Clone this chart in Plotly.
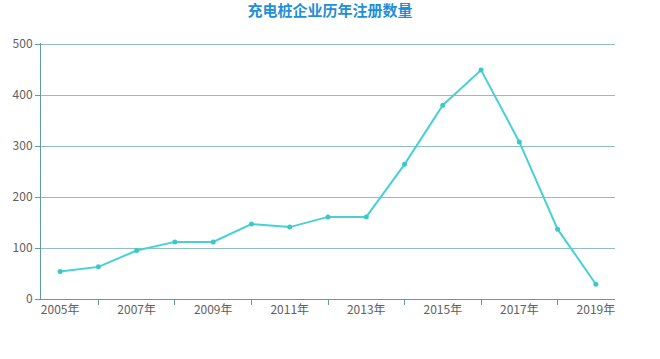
import plotly.graph_objects as go

years = ["2005年", "2006年", "2007年", "2008年", "2009年", "2010年", "2011年", "2012年",
         "2013年", "2014年", "2015年", "2016年", "2017年", "2018年", "2019年"]
counts = [54, 63, 95, 112, 112, 147, 141, 161, 161, 264, 380, 449, 308, 137, 29]
label_years = years[0::2]
tick_years = years[1::2]
y_ticks = [0, 100, 200, 300, 400, 500]

axis_color = "#5e9ea0"
grid_color = "#8fbfc0"
font_family = "Noto Sans CJK SC, Noto Sans, sans-serif"

fig = go.Figure()
fig.add_trace(go.Scatter(
    x=years, y=counts, mode="lines+markers",
    line=dict(color="#48d1d4", width=2),
    marker=dict(color="#3cc8c8", size=5),
    hoverinfo="x+y", showlegend=False,
))
# invisible trace for overlay tick axis
fig.add_trace(go.Scatter(x=years, y=counts, xaxis="x2", mode="lines",
                         line=dict(width=0), opacity=0, showlegend=False, hoverinfo="skip"))

fig.update_layout(
    width=660, height=359,
    margin=dict(l=41, r=45, t=43, b=60),
    paper_bgcolor="white", plot_bgcolor="white",
    title=dict(text="<b>充电桩企业历年注册数量</b>", x=0.5, xanchor="center", y=0.985, yanchor="top",
               font=dict(family=font_family, size=15, color="#1f8fd8")),
    font=dict(family=font_family, size=12, color="#606060"),
    xaxis=dict(
        type="category", categoryorder="array", categoryarray=years,
        range=[-0.5, 14.5], tickmode="array", tickvals=label_years, ticktext=label_years,
        ticks="", showgrid=False, showline=True, linecolor=axis_color, linewidth=1,
        tickfont=dict(size=12, color="#606060"), zeroline=False, fixedrange=True,
    ),
    xaxis2=dict(
        type="category", categoryorder="array", categoryarray=years,
        overlaying="x", side="bottom", range=[-0.5, 14.5],
        tickmode="array", tickvals=tick_years, ticktext=[""] * len(tick_years),
        ticks="outside", ticklen=5, tickcolor=axis_color, tickwidth=1,
        showgrid=False, showline=False, zeroline=False, fixedrange=True,
    ),
    yaxis=dict(
        range=[0, 502], tickmode="array", tickvals=y_ticks,
        ticks="outside", ticklen=5, tickcolor=axis_color,
        showgrid=True, gridcolor=grid_color, gridwidth=1,
        showline=True, linecolor=axis_color, linewidth=1, zeroline=False,
        tickfont=dict(size=12, color="#606060"), fixedrange=True,
    ),
)

fig.write_html("out.html")
